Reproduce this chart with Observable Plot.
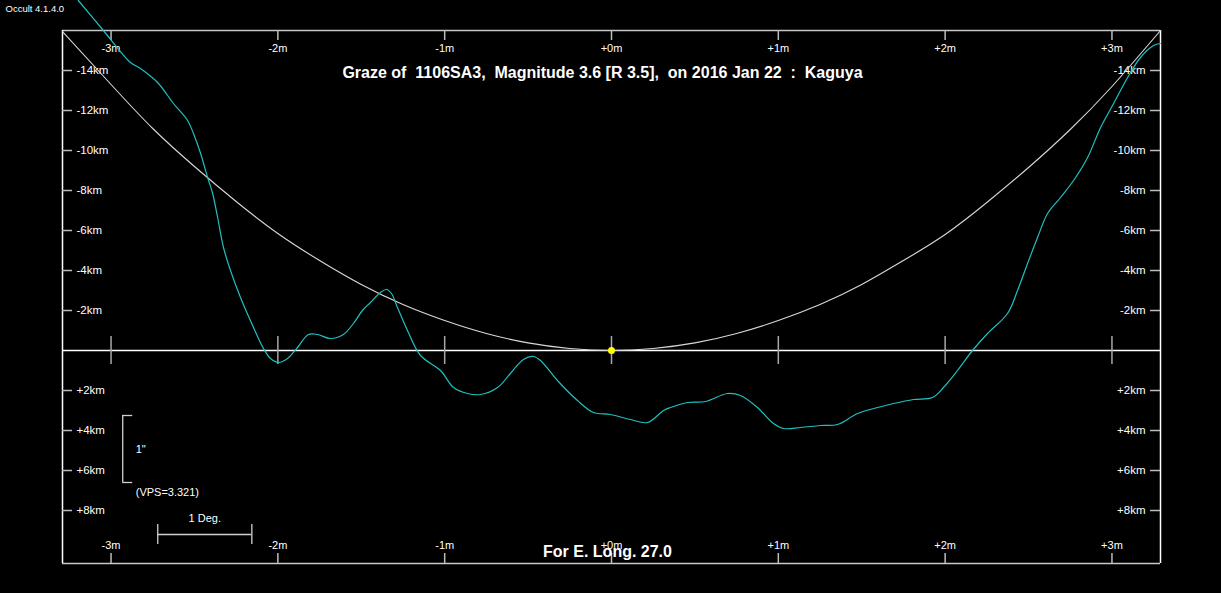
<!DOCTYPE html>
<html>
<head>
<meta charset="utf-8">
<script src="https://cdn.jsdelivr.net/npm/d3@7"></script>
<script src="https://cdn.jsdelivr.net/npm/@observablehq/plot@0.6"></script>
<style>
  html, body { margin: 0; padding: 0; background: #000; overflow: hidden; }
  svg { display: block; }
</style>
</head>
<body>
<div id="chart"></div>
<script>
// ---- Data ----
const titleText = "Graze of  1106SA3,  Magnitude 3.6 [R 3.5],  on 2016 Jan 22  :  Kaguya";
const footText = "For E. Long. 27.0";
const versionText = "Occult 4.1.4.0";

const minuteTicks = [-3, -2, -1, 0, 1, 2, 3];
const minuteLabels = ["-3m", "-2m", "-1m", "+0m", "+1m", "+2m", "+3m"];
const kmTicks = [-14, -12, -10, -8, -6, -4, -2, 2, 4, 6, 8];
const kmLabels = ["-14km", "-12km", "-10km", "-8km", "-6km", "-4km", "-2km", "+2km", "+4km", "+6km", "+8km"];

// lunar limb profile (minutes, km)
const profileMin = [-3.196, -3.046, -2.884, -2.824, -2.721, -2.626, -2.541, -2.506, -2.463, -2.421, -2.391, -2.361, -2.326, -2.284, -2.224, -2.146, -2.086, -2.044, -1.996, -1.942, -1.882, -1.817, -1.763, -1.685, -1.607, -1.547, -1.493, -1.445, -1.385, -1.349, -1.319, -1.283, -1.223, -1.145, -1.025, -0.947, -0.863, -0.785, -0.683, -0.606, -0.528, -0.468, -0.426, -0.324, -0.204, -0.108, -0.006, 0.114, 0.216, 0.312, 0.354, 0.456, 0.564, 0.695, 0.773, 0.875, 0.971, 1.031, 1.133, 1.253, 1.355, 1.475, 1.595, 1.691, 1.811, 1.924, 1.990, 2.074, 2.164, 2.254, 2.374, 2.434, 2.494, 2.554, 2.614, 2.692, 2.770, 2.854, 2.932, 3.010, 3.094, 3.171, 3.249, 3.291];
const profileKm = [-17.5, -16.0, -14.4, -14.1, -13.4, -12.35, -11.5, -10.85, -9.85, -8.65, -7.85, -6.65, -5.15, -4.0, -2.65, -1.15, -0.1, 0.4, 0.6, 0.4, -0.15, -0.8, -0.8, -0.6, -0.8, -1.35, -2.0, -2.4, -2.9, -3.05, -2.85, -2.15, -1.0, 0.25, 1.0, 1.85, 2.15, 2.2, 1.85, 1.15, 0.45, 0.3, 0.5, 1.5, 2.5, 3.1, 3.2, 3.45, 3.6, 3.0, 2.85, 2.6, 2.55, 2.15, 2.25, 2.85, 3.65, 3.9, 3.85, 3.75, 3.7, 3.15, 2.85, 2.65, 2.45, 2.35, 1.85, 1.0, 0.0, -0.85, -1.85, -3.0, -4.35, -5.65, -6.85, -7.65, -8.5, -9.65, -11.15, -12.35, -13.65, -14.65, -15.25, -15.35];

// star path relative to the mean limb (minutes, km)
const limbMin = [-3.291, -3.0, -2.75, -2.5, -2.25, -2.0, -1.75, -1.5, -1.25, -1.0, -0.75, -0.5, -0.25, 0, 0.25, 0.5, 0.75, 1.0, 1.25, 1.5, 1.75, 2.0, 2.25, 2.5, 2.75, 3.0, 3.291];
const limbKm = [-15.95, -13.3, -11.1, -9.2, -7.45, -5.85, -4.5, -3.3, -2.3, -1.5, -0.85, -0.38, -0.1, 0.0, -0.1, -0.38, -0.85, -1.5, -2.3, -3.3, -4.5, -5.8, -7.4, -9.15, -11.05, -13.2, -16.0];

// scale bars
const arcsecBar = {x: -2.93, y1: 3.25, y2: 6.6, cap: 0.06, label: "1\"", note: "(VPS=3.321)"};
const degBar = {x1: -2.72, x2: -2.156, y: 9.2, cap: 0.5, label: "1 Deg."};

const xDomain = [-3.291, 3.291];
const yDomain = [-16, 10.65];

const profile = profileMin.map((m, i) => ({m, km: profileKm[i]}));
const limb = limbMin.map((m, i) => ({m, km: limbKm[i]}));
const mTicks = minuteTicks.map((m, i) => ({m, label: minuteLabels[i]}));
const kTicks = kmTicks.map((k, i) => ({k, label: kmLabels[i]}));

const font = "Liberation Sans, Arial, sans-serif";
const tickGray = "#bdbdbd";

const chart = Plot.plot({
  width: 1221,
  height: 593,
  marginLeft: 62,
  marginRight: 61,
  marginTop: 30,
  marginBottom: 30,
  style: {background: "#000", color: "#fff", fontFamily: font},
  x: {type: "linear", domain: xDomain, axis: null},
  y: {type: "linear", domain: yDomain, reverse: true, axis: null},
  marks: [
    // frame
    Plot.ruleY([yDomain[0], yDomain[1]], {stroke: "#c8c8c8", strokeWidth: 1.5}),
    Plot.ruleX([xDomain[0], xDomain[1]], {stroke: "#fff", strokeWidth: 1.5}),
    // minute ticks at top & bottom
    Plot.ruleX(mTicks, {x: "m", y1: yDomain[0], y2: yDomain[0] + 0.5, stroke: tickGray, strokeWidth: 1.5}),
    Plot.ruleX(mTicks, {x: "m", y1: yDomain[1] - 0.5, y2: yDomain[1], stroke: tickGray, strokeWidth: 1.5}),
    Plot.text(mTicks, {x: "m", y: () => yDomain[0], text: "label", dy: 18, fill: "#fff", fontSize: 11, fontFamily: font}),
    Plot.text(mTicks, {x: "m", y: () => yDomain[1], text: "label", dy: -18, fill: "#fff", fontSize: 11, fontFamily: font}),
    // km ticks left & right
    Plot.ruleY(kTicks, {y: "k", x1: xDomain[0], x2: xDomain[0] + 0.06, stroke: tickGray, strokeWidth: 1.5}),
    Plot.ruleY(kTicks, {y: "k", x1: xDomain[1] - 0.06, x2: xDomain[1], stroke: tickGray, strokeWidth: 1.5}),
    Plot.text(kTicks, {x: () => xDomain[0], y: "k", text: "label", dx: 14, textAnchor: "start", fill: "#fff", fontSize: 11.5, fontFamily: font}),
    Plot.text(kTicks, {x: () => xDomain[1], y: "k", text: "label", dx: -15, textAnchor: "end", fill: "#fff", fontSize: 11.5, fontFamily: font}),
    // zero line with minute marks
    Plot.ruleY([0], {stroke: "#fff", strokeWidth: 1.3}),
    Plot.ruleX(mTicks, {x: "m", y1: -0.7, y2: 0.7, stroke: "#a8a8a8", strokeWidth: 1.5}),
    // curves
    Plot.line(limb, {x: "m", y: "km", stroke: "#d8d8d8", strokeWidth: 1.1, curve: "natural"}),
    Plot.line(profile, {x: "m", y: "km", stroke: "#1fc0c0", strokeWidth: 1.2, curve: "catmull-rom"}),
    Plot.dot([{m: 0, km: 0}], {x: "m", y: "km", r: 3.5, fill: "#ffff00", stroke: null}),
    // 1" bracket
    Plot.ruleX([arcsecBar], {x: "x", y1: "y1", y2: "y2", stroke: "#d0d0d0", strokeWidth: 1.3}),
    Plot.ruleY([arcsecBar], {y: "y1", x1: "x", x2: d => d.x + d.cap, stroke: "#d0d0d0", strokeWidth: 1.3}),
    Plot.ruleY([arcsecBar], {y: "y2", x1: "x", x2: d => d.x + d.cap, stroke: "#d0d0d0", strokeWidth: 1.3}),
    Plot.text([arcsecBar], {x: "x", y: d => (d.y1 + d.y2) / 2, text: "label", dx: 13, textAnchor: "start", fill: "#fff", fontSize: 11, fontFamily: font}),
    Plot.text([arcsecBar], {x: "x", y: "y2", text: "note", dx: 13, dy: 10, textAnchor: "start", fill: "#fff", fontSize: 11, fontFamily: font}),
    // 1 Deg. bar
    Plot.ruleY([degBar], {y: "y", x1: "x1", x2: "x2", stroke: "#d0d0d0", strokeWidth: 1.3}),
    Plot.ruleX([degBar.x1, degBar.x2], {x: d => d, y1: degBar.y - degBar.cap, y2: degBar.y + degBar.cap, stroke: "#d0d0d0", strokeWidth: 1.3}),
    Plot.text([degBar], {x: d => (d.x1 + d.x2) / 2, y: "y", text: "label", dy: -16, fill: "#fff", fontSize: 11, fontFamily: font}),
    // title, footer, version
    Plot.text([titleText], {frameAnchor: "top", lineAnchor: "middle", dx: -9, dy: 42, fill: "#fff", fontSize: 16, fontWeight: "bold", fontFamily: font}),
    Plot.text([footText], {frameAnchor: "bottom", lineAnchor: "middle", dx: -4, dy: -12, fill: "#fff", fontSize: 16, fontWeight: "bold", fontFamily: font}),
    Plot.text([versionText], {frameAnchor: "top-left", lineAnchor: "middle", dx: -57, dy: -22, textAnchor: "start", fill: "#fff", fontSize: 9.5, fontFamily: font})
  ]
});
document.getElementById("chart").appendChild(chart);
</script>
</body>
</html>
